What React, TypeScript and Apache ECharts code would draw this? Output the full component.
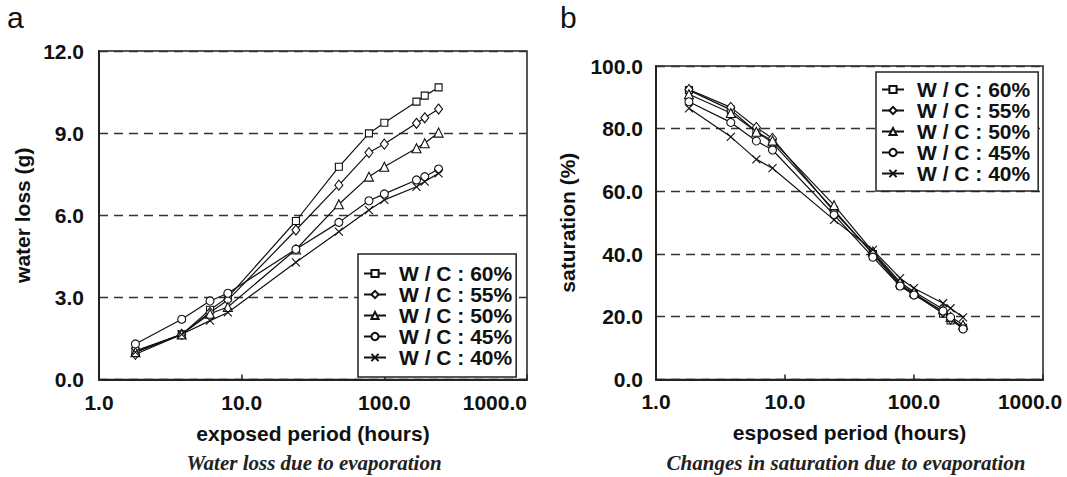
import React, { useEffect, useRef } from 'react';
import * as echarts from 'echarts';

// exposed period (hours)
const hours = [1.8, 3.8, 6, 8, 24, 48, 78, 100, 168, 192, 240];
const seriesNames = ['W / C : 60%', 'W / C : 55%', 'W / C : 50%', 'W / C : 45%', 'W / C : 40%'];

// (a) water loss (g)
const waterLoss60 = [1.05, 1.65, 2.55, 3.0, 5.79, 7.77, 8.99, 9.38, 10.15, 10.37, 10.67];
const waterLoss55 = [0.92, 1.65, 2.45, 2.9, 5.46, 7.1, 8.29, 8.6, 9.36, 9.56, 9.88];
const waterLoss50 = [1.0, 1.65, 2.4, 2.65, 4.75, 6.4, 7.41, 7.77, 8.45, 8.63, 9.02];
const waterLoss45 = [1.3, 2.2, 2.87, 3.15, 4.76, 5.74, 6.53, 6.78, 7.29, 7.41, 7.69];
const waterLoss40 = [1.0, 1.65, 2.15, 2.45, 4.28, 5.4, 6.19, 6.56, 7.04, 7.23, 7.53];

// (b) saturation (%)
const saturation60 = [92.3, 86.0, 79.0, 75.5, 54.0, 40.0, 30.0, 27.2, 21.0, 18.8, 16.5];
const saturation55 = [92.5, 86.8, 80.4, 76.9, 53.5, 40.3, 30.5, 27.5, 21.5, 19.2, 16.8];
const saturation50 = [91.0, 85.0, 79.0, 76.2, 55.6, 40.8, 31.0, 28.0, 22.4, 20.0, 17.4];
const saturation45 = [88.6, 82.0, 76.1, 73.2, 52.5, 39.0, 29.8, 26.9, 21.8, 19.8, 16.1];
const saturation40 = [86.5, 77.4, 70.2, 67.4, 50.9, 41.3, 32.3, 29.1, 24.3, 22.7, 19.8];

const waterLossAxis = { min: 0, max: 12, interval: 3 };
const saturationAxis = { min: 0, max: 100, interval: 20 };
const hoursAxis = { min: 1, max: 1000 };

const waterLossSets = [waterLoss60, waterLoss55, waterLoss50, waterLoss45, waterLoss40];
const saturationSets = [saturation60, saturation55, saturation50, saturation45, saturation40];

const SYMBOLS = ['rect', 'diamond', 'triangle', 'circle', 'path://M0,0L10,10M10,0L0,10'];
const SIZES: any[] = [7, [8, 10], 9, 8, 8];

const FONT = '"Liberation Sans", Arial, sans-serif';
const INK = '#111';

export default function App() {
  const ref = useRef<HTMLDivElement>(null);

  useEffect(() => {
    if (!ref.current) return;
    const chart = echarts.init(ref.current, undefined, { renderer: 'svg' });

    const tickLabel = {
      fontSize: 21,
      fontWeight: 'bold' as const,
      fontFamily: FONT,
      color: INK,
    };
    const nameStyle = { fontSize: 21, fontWeight: 'bold' as const, fontFamily: FONT, color: INK };

    const mkSeries = (vals: number[], i: number, gi: number) => ({
      name: seriesNames[i],
      type: 'line',
      xAxisIndex: gi,
      yAxisIndex: gi,
      data: hours.map((h, k) => [h, vals[k]]),
      symbol: SYMBOLS[i],
      symbolSize: SIZES[i],
      showAllSymbol: true,
      lineStyle: { color: INK, width: 1.2 },
      itemStyle: { color: '#fff', borderColor: INK, borderWidth: 1.1 },
      emphasis: { disabled: true },
      z: 3,
    });

    const mkX = (gi: number, name: string, rightChart: boolean) => ({
      type: 'log',
      logBase: 10,
      gridIndex: gi,
      min: hoursAxis.min,
      max: hoursAxis.max,
      axisLine: { show: true, onZero: false, lineStyle: { color: '#222', width: 2 } },
      axisTick: { show: true, inside: true, length: 5, lineStyle: { color: '#222', width: 1.5 } },
      axisLabel: {
        ...tickLabel,
        margin: 12,
        alignMaxLabel: rightChart ? undefined : 'right',
        formatter: (v: number) =>
          rightChart && v >= 999 ? '{m|' + Number(v).toFixed(1) + '}' : Number(v).toFixed(1),
        rich: { m: { ...tickLabel, padding: [0, 26, 0, 0] } },
      },
      splitLine: { show: false },
      name,
      nameLocation: 'middle',
      nameGap: 43,
      nameTextStyle: nameStyle,
    });

    const mkY = (gi: number, ax: any, name: string, gap: number, margin: number) => ({
      type: 'value',
      gridIndex: gi,
      min: ax.min,
      max: ax.max,
      interval: ax.interval,
      axisLine: { show: true, lineStyle: { color: '#222', width: 2 } },
      axisTick: { show: false },
      axisLabel: { ...tickLabel, margin, formatter: (v: number) => Number(v).toFixed(1) },
      splitLine: { show: true, lineStyle: { type: [9, 6], color: '#333', width: 1.4 } },
      name,
      nameLocation: 'middle',
      nameGap: gap,
      nameRotate: 90,
      nameTextStyle: nameStyle,
    });

    const legendBase = {
      data: seriesNames,
      orient: 'vertical',
      itemWidth: 22,
      itemHeight: 9,
      itemGap: 0,
      borderColor: '#222',
      borderWidth: 1.5,
      backgroundColor: '#fff',
      selectedMode: false,
      z: 10,
      textStyle: {
        fontSize: 21,
        fontWeight: 'bold',
        fontFamily: FONT,
        color: INK,
        lineHeight: 19,
        padding: [0, 0, 0, 8],
      },
    };

    const caption = (text: string, x: number) => ({
      type: 'text',
      x,
      y: 463,
      style: {
        text,
        font: 'italic bold 21px "Liberation Serif", "Times New Roman", serif',
        fill: '#222',
        align: 'center',
        verticalAlign: 'middle',
        textAlign: 'center',
        textVerticalAlign: 'middle',
      },
    });
    const panel = (text: string, x: number) => ({
      type: 'text',
      x,
      y: 17.6,
      style: {
        text,
        font: '30px "Liberation Sans", Arial, sans-serif',
        fill: INK,
        align: 'left',
        verticalAlign: 'middle',
        textAlign: 'left',
        textVerticalAlign: 'middle',
      },
    });

    chart.setOption({
      animation: false,
      backgroundColor: '#fff',
      grid: [
        { left: 99, top: 51, width: 428, height: 328.5, show: true, borderColor: '#222', borderWidth: 1.5 },
        { left: 656, top: 66, width: 387, height: 313.4, show: true, borderColor: '#222', borderWidth: 1.5 },
      ],
      xAxis: [mkX(0, 'exposed period (hours)', false), mkX(1, 'esposed period (hours)', true)],
      yAxis: [
        mkY(0, waterLossAxis, 'water loss (g)', 66, 15),
        mkY(1, saturationAxis, 'saturation (%)', 78, 13),
      ],
      legend: [
        { ...legendBase, left: 358, top: 254, padding: [9, 4, 9, 5] },
        { ...legendBase, left: 876, top: 72, padding: [7, 8, 7, 5] },
      ],
      series: [
        ...waterLossSets.map((v, i) => mkSeries(v, i, 0)),
        ...saturationSets.map((v, i) => mkSeries(v, i, 1)),
      ],
      graphic: [
        panel('a', 7),
        panel('b', 560),
        caption('Water loss due to evaporation', 314),
        caption('Changes in saturation due to evaporation', 846),
      ],
    });

    return () => chart.dispose();
  }, []);

  return (
    <div
      ref={ref}
      style={{ position: 'fixed', left: 0, top: 0, width: 1067, height: 477, background: '#fff' }}
    />
  );
}
